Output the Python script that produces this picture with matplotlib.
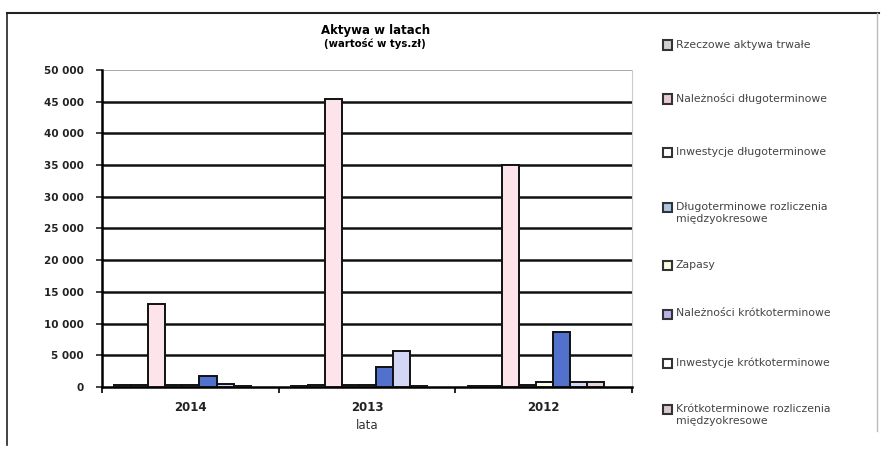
import numpy as np
import matplotlib
matplotlib.use('Agg')
import matplotlib.pyplot as plt
from matplotlib.ticker import FuncFormatter
from matplotlib.patches import Rectangle
from matplotlib.lines import Line2D

# DANE
lata = ['2014', '2013', '2012']
serie = ['Rzeczowe aktywa trwałe',
         'Należności długoterminowe',
         'Inwestycje długoterminowe',
         'Długoterminowe rozliczenia\nmiędzyokresowe',
         'Zapasy',
         'Należności krótkoterminowe',
         'Inwestycje krótkoterminowe',
         'Krótkoterminowe rozliczenia\nmiędzyokresowe']
rzeczowe = [300, 200, 200]
nal_dlugo = [300, 300, 200]
inw_dlugo = [13100, 45400, 35000]
rozl_dlugo = [300, 300, 300]
zapasy = [300, 300, 700]
nal_krotko = [1700, 3200, 8700]
inw_krotko = [400, 5700, 700]
rozl_krotko = [200, 200, 700]
wartosci = [rzeczowe, nal_dlugo, inw_dlugo, rozl_dlugo, zapasy, nal_krotko, inw_krotko, rozl_krotko]

kolory = ['#d8d8d8', '#f2dde4', '#fde4ea', '#a9c6e6', '#fdfdea', '#5271cc', '#d3d7f6', '#e6d6dc']
kolory_leg = ['#d0d0d0', '#e8c8d4', '#ffffff', '#a9c6e6', '#fafae0', '#b8b4ea', '#ffffff', '#d8c8d0']

fig = plt.figure(figsize=(8.83, 4.59), dpi=100)
ax = fig.add_axes([0.1155, 0.157, 0.6005, 0.6905])

x = np.arange(len(lata))
szer = 0.0966
for i, v in enumerate(wartosci):
    ax.bar(x + (i - 3.5) * szer - 0.045, v, szer, color=kolory[i],
           edgecolor='#111111', linewidth=1.4, zorder=3)

ax.set_xlim(-0.5, 2.5)
ax.set_ylim(0, 50000)
ax.set_yticks(np.arange(0, 50001, 5000))
ax.yaxis.set_major_formatter(FuncFormatter(lambda v, p: f'{int(v):,}'.replace(',', ' ')))
for yy in range(5000, 50000, 5000):
    ax.axhline(yy, color='#111111', linewidth=1.8, zorder=1)
ax.axhline(50000, color='#9a9a9a', linewidth=1.2, zorder=1)

ax.set_xticks(x)
ax.set_xticklabels(lata, fontsize=8.5, fontweight='bold', color='#222222')
ax.set_xticks([-0.5, 0.5, 1.5, 2.5], minor=True)
ax.tick_params(axis='x', which='major', length=0, pad=10)
ax.tick_params(axis='x', which='minor', length=4, width=1.2, direction='out')
ax.tick_params(axis='y', length=4, width=1.2, pad=9, labelsize=7.5, colors='#222222')
for lab in ax.get_yticklabels():
    lab.set_fontweight('bold')
ax.set_xlabel('lata', fontsize=8.5, color='#333333', labelpad=4)

ax.spines['top'].set_visible(False)
ax.spines['right'].set_color('#cccccc')
ax.spines['left'].set_linewidth(1.8)
ax.spines['bottom'].set_linewidth(1.8)

fig.text(0.425, 0.927, 'Aktywa w latach', ha='center', fontsize=8.5, fontweight='bold')
fig.text(0.425, 0.897, '(wartość w tys.zł)', ha='center', fontsize=7.3, fontweight='bold')

# LEGENDA (ręcznie, równe odstępy jak w Excelu)
leg_y = [45, 99, 153, 208, 265, 314, 363, 409]   # piksele od góry
for i, nazwa in enumerate(serie):
    yf = 1 - leg_y[i] / 459
    fig.add_artist(Rectangle((663 / 883, yf - 4.5 / 459), 9 / 883, 9 / 459,
                             transform=fig.transFigure, facecolor=kolory_leg[i],
                             edgecolor='#333333', linewidth=1.5))
    fig.text(676 / 883, yf + 5.5 / 459, nazwa, ha='left', va='top',
             fontsize=7.8, color='#444444', linespacing=1.25)

# RAMKA
fig.add_artist(Line2D([0.008, 0.995], [0.972, 0.972], color='#222222', linewidth=1.5))
fig.add_artist(Line2D([0.008, 0.008], [0.972, 0.03], color='#222222', linewidth=1.2))
fig.add_artist(Line2D([0.993, 0.993], [0.972, 0.06], color='#bbbbbb', linewidth=1.0))

fig.savefig('out.png', dpi=100)
